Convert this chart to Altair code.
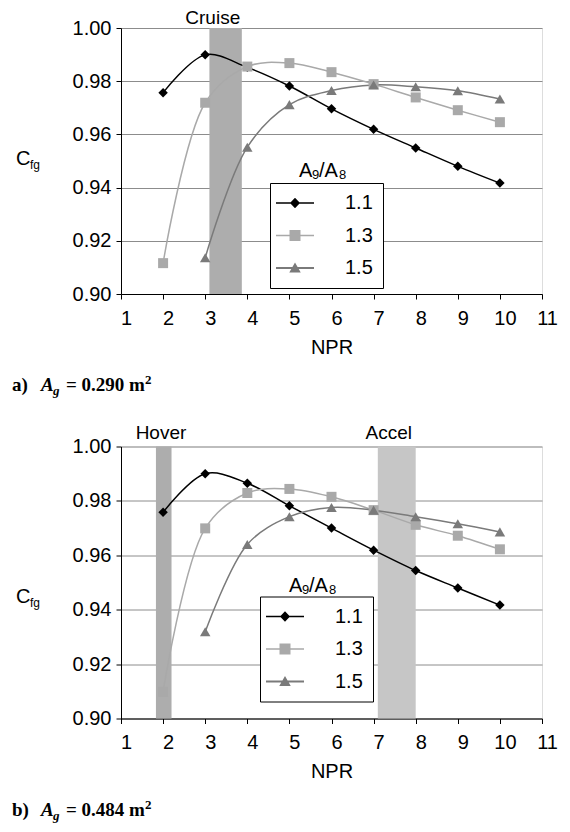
import altair as alt
import pandas as pd

# ---------------- data ----------------
ratios = ["1.1", "1.3", "1.5"]
npr_full = [2, 3, 4, 5, 6, 7, 8, 9, 10]
npr_15 = [3, 4, 5, 6, 7, 8, 9, 10]

# panel a) Ag = 0.290 m2
a_11 = [0.9757, 0.9899, 0.9852, 0.9782, 0.9696, 0.9619, 0.9549, 0.9480, 0.9417]
a_13 = [0.9116, 0.9719, 0.9855, 0.9868, 0.9834, 0.9789, 0.9739, 0.9691, 0.9646]
a_15 = [0.9136, 0.9552, 0.9712, 0.9765, 0.9786, 0.9779, 0.9764, 0.9733]

# panel b) Ag = 0.484 m2
b_11 = [0.9758, 0.9900, 0.9865, 0.9782, 0.9700, 0.9619, 0.9544, 0.9480, 0.9417]
b_13 = [0.9098, 0.9699, 0.9829, 0.9844, 0.9815, 0.9766, 0.9712, 0.9672, 0.9622]
b_15 = [0.9319, 0.9640, 0.9742, 0.9776, 0.9766, 0.9742, 0.9716, 0.9686]

# operating bands
a_band_names = ["Cruise"]
a_band_lo = [3.10]
a_band_hi = [3.87]
a_band_label_x = [3.18]
a_band_colors = ["#adadad"]

b_band_names = ["Hover", "Accel"]
b_band_lo = [1.83, 7.10]
b_band_hi = [2.20, 8.00]
b_band_label_x = [1.95, 7.36]
b_band_colors = ["#adadad", "#c6c6c6"]

x_ticks = list(range(1, 12))
y_ticks = [0.90, 0.92, 0.94, 0.96, 0.98, 1.00]

series_colors = ["#000000", "#a9a9a9", "#7a7a7a"]
series_widths = [1.5, 1.5, 2.0]
series_shapes = ["diamond", "square", "triangle-up"]
legend_paths = [
    "M-3.8,-0.15H3.8V0.15H-3.8Z M0,-1.05L1,0L0,1.05L-1,0Z",
    "M-3.8,-0.15H3.8V0.15H-3.8Z M-1.1,-1.1H1.1V1.1H-1.1Z",
    "M-3.8,-0.2H3.8V0.2H-3.8Z M0,-1.1L1.15,0.9L-1.15,0.9Z",
]

SANS = "Liberation Sans"
SERIF = "Liberation Serif"
W = 421


def make_df(v11, v13, v15):
    rows = []
    for x, y in zip(npr_full, v11):
        rows.append({"npr": x, "cfg": y, "ratio": "1.1"})
    for x, y in zip(npr_full, v13):
        rows.append({"npr": x, "cfg": y, "ratio": "1.3"})
    for x, y in zip(npr_15, v15):
        rows.append({"npr": x, "cfg": y, "ratio": "1.5"})
    return pd.DataFrame(rows)


def panel(df, names, lo, hi, lx, bcolors, H, letter, area, leg_x, leg_y,
          title_x, title_y, cfg_y, band_label_y):
    xs = alt.Scale(domain=[1, 11], nice=False, zero=False)
    ys = alt.Scale(domain=[0.90, 1.00], nice=False, zero=False)
    x_axis = alt.Axis(values=x_ticks, format="d", title="NPR", grid=False,
                      domainColor="black", tickColor="black", tickSize=5,
                      labelFontSize=20, labelFont=SANS, labelColor="black",
                      labelPadding=9, labelOffset=5, labelFlush=False,
                      titleFontSize=20, titleFont=SANS, titleFontWeight="normal",
                      titleColor="black", titlePadding=9)
    y_axis = alt.Axis(values=y_ticks, format=".2f", title=None, grid=True,
                      gridColor="#8c8c8c", gridWidth=1,
                      domainColor="black", tickColor="black", tickSize=5,
                      labelFontSize=20, labelFont=SANS, labelColor="black",
                      labelPadding=5)
    X = alt.X("npr:Q", scale=xs, axis=x_axis)
    Y = alt.Y("cfg:Q", scale=ys, axis=y_axis)

    layers = []
    bdf = pd.DataFrame({"name": names, "lo": lo, "hi": hi, "lx": lx, "col": bcolors})
    for i in range(len(names)):
        layers.append(
            alt.Chart(bdf.iloc[[i]]).mark_rect(color=bcolors[i]).encode(
                x=alt.X("lo:Q", scale=xs, axis=x_axis), x2="hi:Q",
                y=alt.value(0), y2=alt.value(H)))
    layers.append(
        alt.Chart(bdf).mark_text(font=SANS, fontSize=19, baseline="middle",
                                 align="center", color="black").encode(
            x=alt.X("lx:Q", scale=xs, axis=x_axis), y=alt.value(band_label_y), text="name:N"))

    cscale = alt.Scale(domain=ratios, range=series_colors)
    base = alt.Chart(df)
    layers.append(base.mark_line(interpolate="catmull-rom").encode(
        x=X, y=Y,
        color=alt.Color("ratio:N", scale=cscale, legend=None),
        strokeWidth=alt.StrokeWidth("ratio:N", scale=alt.Scale(domain=ratios, range=series_widths), legend=None),
        detail="ratio:N"))
    layers.append(base.mark_point(filled=True, opacity=1).encode(
        x=X, y=Y,
        color=alt.Color("ratio:N", scale=cscale, legend=None),
        shape=alt.Shape("ratio:N", scale=alt.Scale(domain=ratios, range=series_shapes), legend=None),
        size=alt.Size("ratio:N", scale=alt.Scale(domain=ratios, range=[90, 110, 90]), legend=None)))

    leg = alt.Legend(title=None, orient="none", legendX=leg_x, legendY=leg_y,
                     strokeColor="black", fillColor="white", padding=10,
                     symbolSize=100, symbolOffset=5, labelOffset=40,
                     symbolStrokeWidth=0, rowPadding=12.5,
                     labelFontSize=20, labelFont=SANS, labelColor="black")
    layers.append(base.transform_filter("false").mark_point(filled=True, opacity=1).encode(
        x=X, y=Y,
        fill=alt.Fill("ratio:N", scale=alt.Scale(domain=ratios, range=series_colors), legend=leg),
        shape=alt.Shape("ratio:N", scale=alt.Scale(domain=ratios, range=legend_paths), legend=leg)))

    one = pd.DataFrame({"k": [0]})

    def txt(s, x, y, size, font=SANS, weight="normal", style="normal", align="left",
            baseline="alphabetic"):
        return alt.Chart(one).mark_text(text=s, font=font, fontSize=size, fontWeight=weight,
                                        fontStyle=style, align=align, baseline=baseline,
                                        color="black").encode(x=alt.value(x), y=alt.value(y))

    # legend title
    layers.append(txt("A", title_x, title_y, 20))
    layers.append(txt("9", title_x + 13, title_y + 2, 13))
    layers.append(txt("/A", title_x + 20, title_y, 20))
    layers.append(txt("8", title_x + 40, title_y + 2, 13))
    # y label C_fg
    layers.append(txt("C", -105, cfg_y, 20, baseline="middle"))
    layers.append(txt("fg", -91, cfg_y + 6, 12, baseline="middle"))
    # caption
    cy = H + 97
    layers.append(txt(letter + ")", -109, cy, 19, font=SERIF, weight="bold"))
    layers.append(txt("A", -80, cy, 19, font=SERIF, weight="bold", style="italic"))
    layers.append(txt("g", -68, cy + 4, 13, font=SERIF, weight="bold", style="italic"))
    layers.append(txt("= " + area + " m", -55, cy, 19, font=SERIF, weight="bold"))
    layers.append(txt("2", 24, cy - 7, 13, font=SERIF, weight="bold"))

    return alt.layer(*layers).resolve_scale(
        shape="independent", size="independent", fill="independent").properties(width=W, height=H)


top = panel(make_df(a_11, a_13, a_15), a_band_names, a_band_lo, a_band_hi, a_band_label_x,
            a_band_colors, 266, "a", "0.290", 149, 155, 178, 149, 131, -10)
bottom = panel(make_df(b_11, b_13, b_15), b_band_names, b_band_lo, b_band_hi, b_band_label_x,
               b_band_colors, 272, "b", "0.484", 139, 150, 168, 145, 150, -14)

chart = alt.vconcat(top, bottom, spacing=23.5,
                    padding={"left": 3, "top": 0, "right": 0, "bottom": 0}).configure_view(
    stroke="#8c8c8c", strokeWidth=1).configure(background="white")

chart.save("out.html", embed_options={"renderer": "svg", "actions": False})
